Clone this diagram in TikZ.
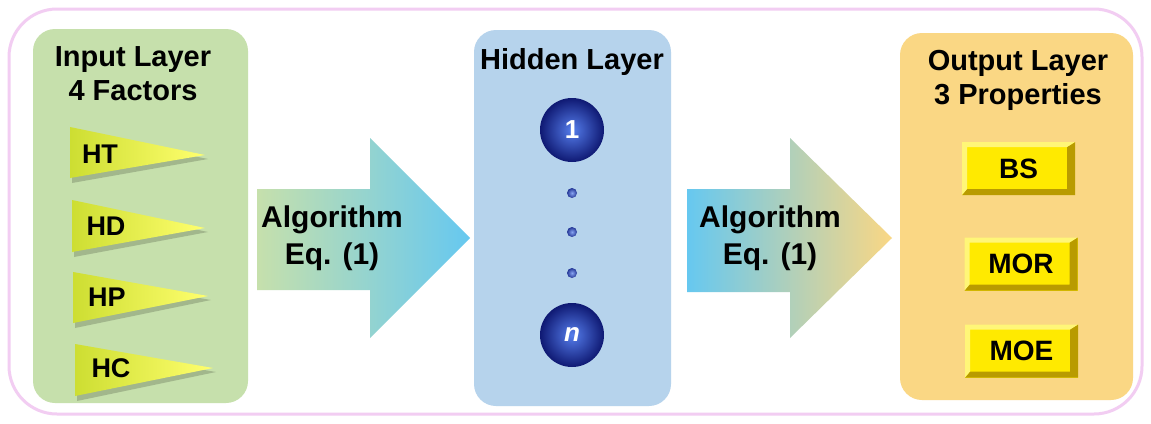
\documentclass[tikz,border=0pt]{standalone}
\usepackage{fontspec}
\setmainfont{Liberation Sans}
\definecolor{framepink}{RGB}{242,205,242}
\definecolor{ingreen}{RGB}{198,224,172}
\definecolor{hidblue}{RGB}{182,211,236}
\definecolor{outyel}{RGB}{250,215,132}
\definecolor{arrcyan}{RGB}{102,200,240}
\definecolor{arrmid}{RGB}{215,212,195}
\definecolor{flagleft}{RGB}{205,222,50}
\definecolor{flagright}{RGB}{255,255,110}
\definecolor{ballin}{RGB}{85,125,235}
\definecolor{ballout}{RGB}{15,25,115}
\definecolor{btnface}{RGB}{255,234,0}
\definecolor{btnlight}{RGB}{255,246,120}
\definecolor{btndark}{RGB}{185,155,0}
\begin{document}
\begin{tikzpicture}[x=1pt,y=-1pt,
  ttl/.style={font=\bfseries\fontsize{29}{34}\selectfont, align=center, text=black, inner sep=0pt},
  alg/.style={font=\bfseries\fontsize{30}{37}\selectfont, align=center, text=black, inner sep=0pt},
  flaglbl/.style={font=\bfseries\fontsize{27}{30}\selectfont, text=black, inner sep=0pt},
  panel/.style={draw=none, rounded corners=22pt, inner sep=0pt},
  ball/.style={circle, minimum size=64pt, inner sep=0pt, inner color=ballin, outer color=ballout,
    text=white, font=\bfseries\fontsize{26}{30}\selectfont},
  smalldot/.style={circle, minimum size=10pt, inner sep=0pt, inner color=ballin!70!white, outer color=ballout!70!ballin},
  btn/.style={minimum width=113pt, minimum height=53pt, inner sep=0pt, fill=btnface,
    font=\bfseries\fontsize{28}{32}\selectfont,
    path picture={
      \fill[btndark] (path picture bounding box.north east) -- (path picture bounding box.south east)
        -- (path picture bounding box.south west) -- ([xshift=5pt,yshift=6pt]path picture bounding box.south west)
        -- ([xshift=-8pt,yshift=6pt]path picture bounding box.south east)
        -- ([xshift=-8pt,yshift=-5pt]path picture bounding box.north east) -- cycle;
      \fill[btnlight] (path picture bounding box.north west) -- (path picture bounding box.north east)
        -- ([xshift=-8pt,yshift=-5pt]path picture bounding box.north east)
        -- ([xshift=5pt,yshift=-5pt]path picture bounding box.north west)
        -- ([xshift=5pt,yshift=6pt]path picture bounding box.south west)
        -- (path picture bounding box.south west) -- cycle;
    }},
  flagshadow/.style={fill=black, opacity=0.18},
  flag/.style={left color=flagleft, right color=flagright}
]
\useasboundingbox (0,0) rectangle (1151,423);
\fill[white] (0,0) rectangle (1151,423);
% outer frame
\draw[framepink, line width=3pt, rounded corners=48pt] (9,9) rectangle (1142,414);

% panels
\node[panel, fill=ingreen, minimum width=215pt, minimum height=374pt] (inp) at (140.5,216) {};
\node[panel, fill=hidblue, minimum width=197pt, minimum height=376pt] (hid) at (572.5,218) {};
\node[panel, fill=outyel, minimum width=233pt, minimum height=367pt] (out) at (1016.5,216.5) {};

% titles
\node[ttl] (inttl) at (133,74) {Input Layer\\4 Factors};
\node[ttl] (hidttl) at (572,62) {Hidden Layer};
\node[ttl] (outttl) at (1018,80) {Output Layer\\3 Properties};

% flags
\foreach \nm/\lx/\tp/\bt/\tx/\ty/\labx/\laby in
  {HT/70/127/178/205/155/100/154, HD/72/200/252/205/228/106/226, HP/73/272/323/208/296/107/297, HC/75/344/396/213/368/111/368}{
  \fill[flagshadow] (\lx+2,\tp+4) -- (\tx+3,\ty+4) -- (\lx+2,\bt+5) -- cycle;
  \shade[flag] (\lx,\tp) -- (\tx,\ty) -- (\lx,\bt) -- cycle;
  \node[flaglbl] (f\nm) at (\labx,\laby) {\nm};
}

% block arrows
\coordinate (a1tip) at (470,238);
\coordinate (a2tip) at (892,238);
\shade[left color=ingreen, right color=arrcyan]
  (257,189) -- (370,189) -- (370,138) -- (a1tip) -- (370,338) -- (370,290) -- (257,290) -- cycle;
\shade[left color=arrcyan, middle color=arrmid, right color=outyel]
  (687,189) -- (790,189) -- (790,138) -- (a2tip) -- (790,338) -- (790,292) -- (687,292) -- cycle;
\node[alg] (alg1) at (332,238) {Algorithm\\Eq. (1)};
\node[alg] (alg2) at (770,238) {Algorithm\\Eq. (1)};

% hidden neurons
\node[ball] (h1) at (572,130) {1};
\node[smalldot] (d1) at (572,193) {};
\node[smalldot] (d2) at (572,232) {};
\node[smalldot] (d3) at (572,273) {};
\node[ball] (hn) at (572,335) {\itshape n};

% output buttons
\node[btn] (bs) at (1018.5,168.5) {BS};
\node[btn] (mor) at (1021,264) {MOR};
\node[btn] (moe) at (1021.5,351) {MOE};
\end{tikzpicture}
\end{document}
